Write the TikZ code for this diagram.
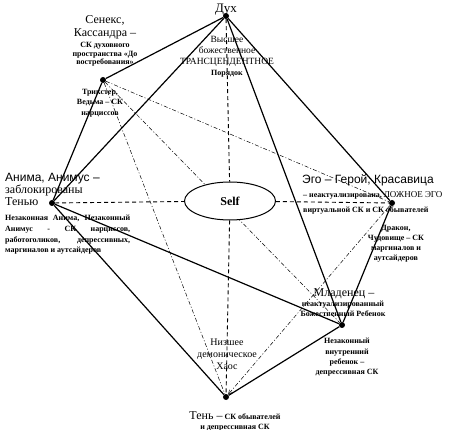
\documentclass[tikz,border=0pt]{standalone}
\usepackage{fontspec}
\setmainfont{Liberation Serif}
\setsansfont{Liberation Sans}
\usetikzlibrary{arrows.meta,positioning,shapes.geometric,backgrounds}
\tikzset{
  vertexdot/.style={circle, fill=black, inner sep=0pt, minimum size=6pt},
  bigtext/.style={inner sep=0pt, align=center, font=\fontsize{12}{13}\selectfont},
  bigsans/.style={inner sep=0pt, font=\sffamily\fontsize{12}{13}\selectfont},
  midtext/.style={inner sep=0pt, align=center, font=\fontsize{9.5}{11}\selectfont},
  smalltext/.style={inner sep=0pt, align=center, font=\bfseries\fontsize{8}{10}\selectfont},
  solidline/.style={line width=1.2pt},
  axisline/.style={line width=0.9pt, dash pattern=on 4pt off 3pt},
  linkline/.style={line width=0.5pt, dash pattern=on 4pt off 2pt on 1pt off 2pt},
}
\hyphenpenalty=10000

\begin{document}
\begin{tikzpicture}[x=1pt, y=-1pt]
  \useasboundingbox (0,0) rectangle (450,430);
  % vertices of the figure
  \node[vertexdot] (dukh) at (226,16) {};
  \node[vertexdot] (senex) at (103,80) {};
  \node[vertexdot] (anima) at (52,203) {};
  \node[vertexdot] (ego) at (392,203) {};
  \node[vertexdot] (infant) at (342,325) {};
  \node[vertexdot] (shadow) at (226,397) {};
  \node[ellipse, draw, line width=1pt, fill=white, minimum width=91pt,
        minimum height=38pt, font=\bfseries\fontsize{12}{12}\selectfont]
        (self) at (230,201) {Self};

  % connectors behind the Self ellipse
  \begin{scope}[on background layer]
    \draw[solidline] (dukh) -- (senex);
    \draw[solidline] (senex) -- (anima);
    \draw[solidline] (anima) -- (dukh);
    \draw[solidline] (dukh) -- (ego);
    \draw[solidline] (dukh) -- (infant);
    \draw[solidline] (ego) -- (infant);
    \draw[solidline] (anima) -- (infant);
    \draw[solidline] (anima) -- (shadow);
    \draw[solidline] (shadow) -- (infant);
    \draw[axisline] (anima) -- (self);
    \draw[axisline] (self) -- (ego);
    \draw[axisline] (dukh) -- (self);
    \draw[axisline] (self) -- (shadow);
    \draw[linkline] (senex) -- (ego);
    \draw[linkline] (senex) -- (infant);
    \draw[linkline] (senex) -- (shadow);
    \draw[linkline, -{Straight Barb[length=4pt, width=4pt]}] (ego) -- (shadow);
  \end{scope}

  % labels
  \node[bigtext, anchor=base, font=\fontsize{13}{14}\selectfont] (dukhname) at (226,13) {Дух};
  \node[midtext, anchor=north] (higher) at (227,36.5)
    {Высшее\\божественное\\ТРАНСЦЕНДЕНТНОЕ\\{\bfseries\fontsize{8}{9}\selectfont Порядок}};

  \node[bigtext, anchor=north] (senexname) at (105,15.5) {Сенекс,\\Кассандра –};
  \node[smalltext, anchor=north, font=\bfseries\fontsize{8}{8.7}\selectfont] (senexsc) at (105,42)
    {СК духовного\\пространства «До\\востребования»};
  \node[smalltext, anchor=north, font=\bfseries\fontsize{8}{10.5}\selectfont] (trickster) at (100,89)
    {Трикстер,\\Ведьма – СК\\нарциссов};

  \node[bigtext, align=left, anchor=north west, font=\fontsize{12}{12}\selectfont] (animaname) at (5,173.5)
    {{\sffamily Анима, Анимус –}\\заблокированы\\Тенью};
  \node[smalltext, anchor=north west, text width=125pt, align=justify,
        font=\bfseries\fontsize{8}{10.7}\selectfont] (animasc) at (5,215)
    {Незаконная Анима, Незаконный\linebreak Анимус - СК нарциссов,\linebreak
     работоголиков, депрессивных,\linebreak маргиналов и аутсайдеров};

  \node[bigsans, anchor=base west] (egoname) at (302,184) {Эго – Герой, Красавица};
  \node[smalltext, anchor=base west] (egofalse) at (303,198)
    {– неактуализирована, {\mdseries\fontsize{9}{9}\selectfont ЛОЖНОЕ ЭГО}};
  \node[smalltext, anchor=base west] (egosc) at (303,212.5) {виртуальной СК и СК обывателей};
  \node[smalltext, anchor=north] (dragon) at (396,225)
    {Дракон,\\Чудовище – СК\\маргиналов и\\аутсайдеров};

  \node[bigtext, anchor=base] (infantname) at (344,297) {Младенец –};
  \node[smalltext, anchor=north] (infantsc) at (343,301)
    {неактуализированный\\Божественный Ребенок};
  \node[smalltext, anchor=north, font=\bfseries\fontsize{8}{10.3}\selectfont] (innerchild) at (347,338)
    {Незаконный\\внутренний\\ребенок –\\депрессивная СК};

  \node[midtext, anchor=north, font=\fontsize{10}{12}\selectfont] (lower) at (227,339)
    {Низшее\\демоническое\\Хаос};
  \node[smalltext, anchor=north, font=\bfseries\fontsize{8}{10}\selectfont] (shadowname) at (235,411)
    {{\mdseries\fontsize{12}{12}\selectfont Тень –} СК обывателей\\и депрессивная СК};
\end{tikzpicture}
\end{document}
